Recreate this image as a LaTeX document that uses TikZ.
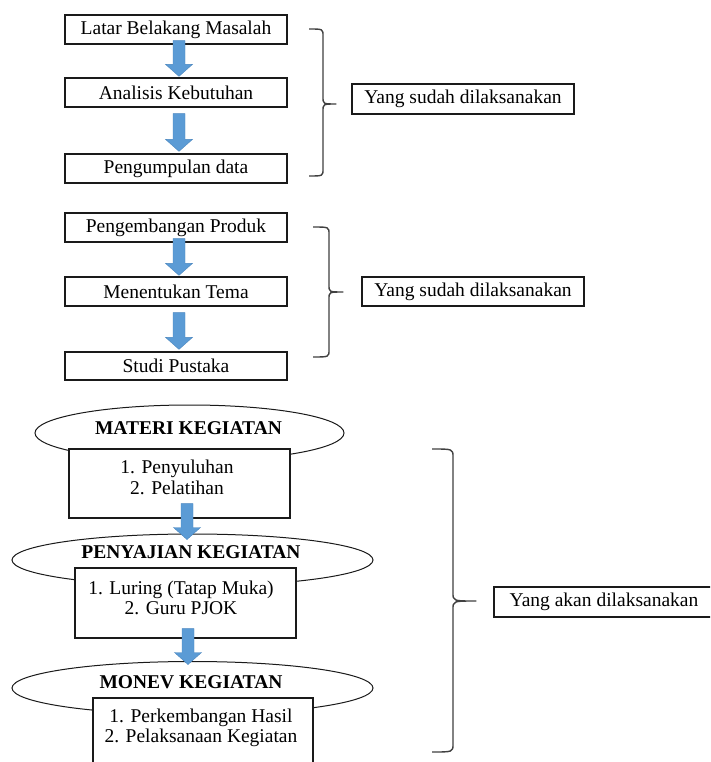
\documentclass[tikz,border=0pt]{standalone}
\usepackage{fontspec}
\setmainfont{Liberation Serif}
\usetikzlibrary{calc,shapes.geometric}
\definecolor{arrowblue}{HTML}{5B9BD5}
\definecolor{arrowedge}{HTML}{4A86BF}
\definecolor{braceg}{HTML}{404040}
\definecolor{boxline}{HTML}{1A1A1A}
\newcommand\mainsz{\fontsize{19.5}{20.5}\selectfont}
% block arrow: from node, to node, x (px), shaft overlap up (px), tip offset down (px)
\newcommand\blkarrow[5]{%
  \filldraw[blockarr] let \p1=(#1.south), \p2=(#2.north) in
   ({#3pt-6pt},{\y1+(#4pt)}) -- ({#3pt+6pt},{\y1+(#4pt)}) --
   ({#3pt+6pt},{\y2-(#5pt)+12pt}) -- ({#3pt+13.5pt},{\y2-(#5pt)+12pt}) --
   ({#3pt},{\y2-(#5pt)}) -- ({#3pt-13.5pt},{\y2-(#5pt)+12pt}) --
   ({#3pt-6pt},{\y2-(#5pt)+12pt}) -- cycle;}
\tikzset{
  stepbox/.style={draw=boxline, line width=1.3pt, fill=white, inner sep=0pt,
    minimum width=222pt, minimum height=29pt, font=\mainsz},
  oval/.style={ellipse, draw=boxline, line width=1pt, fill=white, inner sep=0pt},
  ovaltext/.style={font=\mainsz\bfseries, inner sep=0pt},
  listtext/.style={align=center, font=\mainsz, inner sep=0pt},
  bracket/.style={draw=braceg, line width=1.4pt, line join=round},
  blockarr/.style={fill=arrowblue, draw=arrowedge, line width=0.4pt},
}
\begin{document}
\begin{tikzpicture}[x=1pt,y=-1pt]
\useasboundingbox (0,0) rectangle (710,762);
\clip (0,0) rectangle (710,762);
\fill[white] (0,0) rectangle (710,762);

% ---- section 1
\node[stepbox] (b1) at (176,29.5) {Latar Belakang Masalah};
\node[stepbox] (b2) at (176,92.5) {Analisis Kebutuhan};
\node[stepbox] (b3) at (176,168.5) {Pengumpulan data};
\node[stepbox, minimum height=30pt] (l1) at (463,99) {Yang sudah dilaksanakan};
\draw[bracket] (309,29) .. controls (323,29) .. (323,36) -- (323,97)
  .. controls (323,104) .. (336,104) .. controls (323,104) .. (323,111)
  -- (323,169) .. controls (323,176) .. (309,176);

% ---- section 2
\node[stepbox] (b4) at (176,227.5) {Pengembangan Produk};
\node[stepbox] (b5) at (176,291.5) {Menentukan Tema};
\node[stepbox, minimum height=28pt] (b6) at (176,366) {Studi Pustaka};
\node[stepbox] (l2) at (473,291.5) {Yang sudah dilaksanakan};
\draw[bracket] (313,227) .. controls (329,227) .. (329,234) -- (329,285)
  .. controls (329,292) .. (343,292) .. controls (329,292) .. (329,299)
  -- (329,350) .. controls (329,357) .. (313,357);

% ---- section 3
\node[oval, minimum width=309pt, minimum height=56pt] (e1) at (189.5,433) {};
\node[stepbox, minimum width=221pt, minimum height=69pt] (b7) at (179.5,483.5) {};
\node[ovaltext] (o1) at (188.5,428) {MATERI KEGIATAN};
\node[listtext] (t7) at (177,477.5) {1. Penyuluhan\\2. Pelatihan};

\node[oval, minimum width=361pt, minimum height=52pt] (e2) at (192.5,560) {};
\node[stepbox, minimum width=221pt, minimum height=70pt] (b8) at (185.5,603) {};
\node[ovaltext] (o2) at (191,552) {PENYAJIAN KEGIATAN};
\node[listtext] (t8) at (181,598) {1. Luring (Tatap Muka)\\2. Guru PJOK};

\node[oval, minimum width=361pt, minimum height=53pt] (e3) at (192.5,688) {};
\node[stepbox, minimum width=220pt, minimum height=77pt] (b9) at (203,736.5) {};
\node[ovaltext] (o3) at (191,682) {MONEV KEGIATAN};
\node[listtext] (t9) at (201,728) {1. Perkembangan Hasil\\2. Pelaksanaan Kegiatan};

\node[stepbox, minimum width=220pt, minimum height=30pt] (l3) at (604,602) {Yang akan dilaksanakan};
\draw[bracket] (432,449) .. controls (453,449) .. (453,457) -- (453,593)
  .. controls (453,601) .. (476,601) .. controls (453,601) .. (453,609)
  -- (453,744) .. controls (453,752) .. (432,752);

% ---- block arrows
\blkarrow{b1}{b2}{179}{4}{-1}
\blkarrow{b2}{b3}{179}{-6}{-2}
\blkarrow{b4}{b5}{179}{4}{-1}
\blkarrow{b5}{b6}{179}{-6}{-2}
\blkarrow{b7}{e2}{187}{15}{6}
\blkarrow{b8}{e3}{188}{10}{3.5}
\end{tikzpicture}
\end{document}
